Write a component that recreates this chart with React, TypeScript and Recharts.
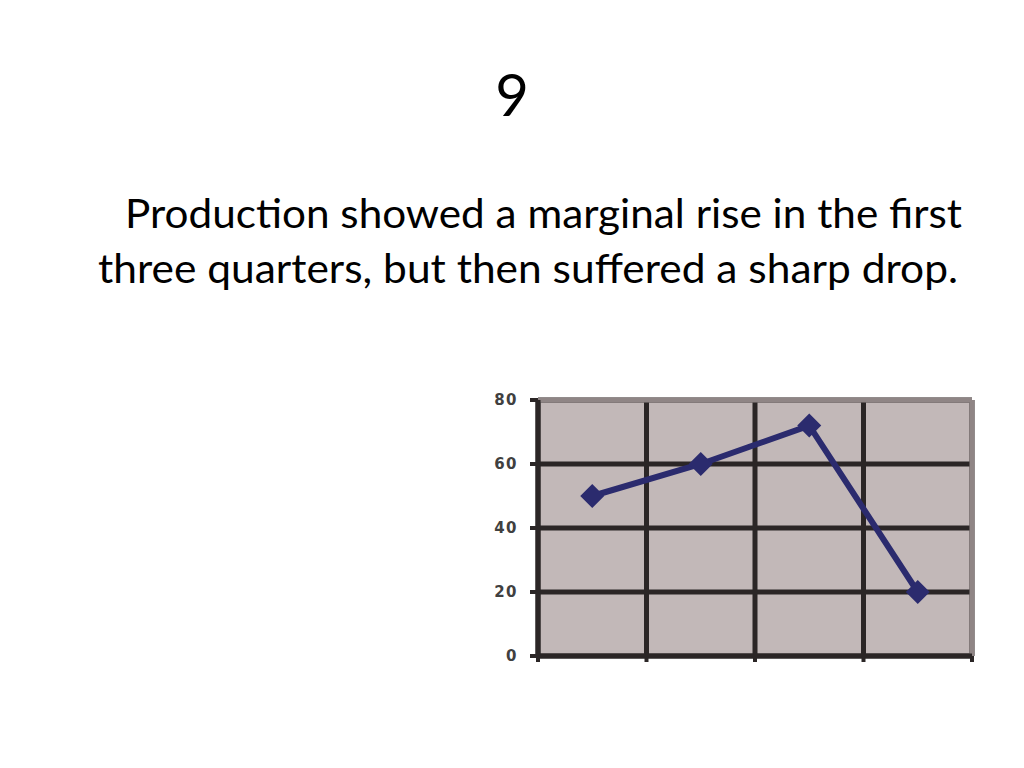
import React from "react";
import {
  CartesianGrid,
  Line,
  LineChart,
  ReferenceLine,
  XAxis,
  YAxis,
} from "recharts";

const quarters = ["Q1", "Q2", "Q3", "Q4"];
const production = [50, 60, 72, 20];
const yTicks = [0, 20, 40, 60, 80];
const xBoundaries = [0, 1, 2, 3, 4];

const data = quarters.map((q, i) => ({ quarter: q, pos: i + 0.5, value: production[i] }));

const GRID = "#2b2626";
const FRAME = "#8f8585";
const LINE = "#2b2b6e";

const YTick = (props: any) => {
  const { x, y, payload } = props;
  return (
    <text
      x={x}
      y={y}
      dy={5}
      textAnchor="end"
      fontFamily="DejaVu Sans"
      fontSize={15}
      fontWeight="bold"
      letterSpacing={1.5}
      fill="#404040"
    >
      {payload.value}
    </text>
  );
};

const NoTick = () => <g />;

const Diamond = (props: any) => {
  const { cx, cy } = props;
  if (cx == null || cy == null) return null;
  const w = 12;
  const h = 12;
  return (
    <polygon
      points={`${cx},${cy - h} ${cx + w},${cy} ${cx},${cy + h} ${cx - w},${cy}`}
      fill={LINE}
    />
  );
};

export default function App() {
  return (
    <div
      style={{
        position: "absolute",
        left: 0,
        top: 0,
        width: 1024,
        height: 768,
        background: "#fff",
        overflow: "hidden",
      }}
    >
      <svg width={1024} height={320} style={{ position: "absolute", left: 0, top: 0 }}>
        <text x={512} y={116} textAnchor="middle" fontFamily="Lato" fontSize={58} fill="#000">
          9
        </text>
        <text
          x={125}
          y={228}
          fontFamily="Lato"
          fontSize={40}
          fill="#000"
          textLength={837}
          lengthAdjust="spacingAndGlyphs"
        >
          Production showed a marginal rise in the first
        </text>
        <text
          x={98}
          y={283}
          fontFamily="Lato"
          fontSize={40}
          fill="#000"
          textLength={860}
          lengthAdjust="spacingAndGlyphs"
        >
          three quarters, but then suffered a sharp drop.
        </text>
      </svg>

      <div style={{ position: "absolute", left: 470, top: 385 }}>
        <LineChart
          width={522}
          height={290}
          data={data}
          margin={{ top: 15, right: 20, left: 28, bottom: 9 }}
        >
          <CartesianGrid
            fill="#c2b8b8"
            stroke={GRID}
            strokeWidth={5}
            fillOpacity={1}
          />
          <ReferenceLine y={80} stroke={FRAME} strokeWidth={5} />
          <ReferenceLine x={4} stroke={FRAME} strokeWidth={5} />
          <XAxis
            dataKey="pos"
            type="number"
            domain={[0, 4]}
            ticks={xBoundaries}
            interval={0}
            tick={<NoTick />}
            tickSize={6}
            height={10}
            axisLine={{ stroke: GRID, strokeWidth: 5 }}
            tickLine={{ stroke: GRID, strokeWidth: 4 }}
          />
          <YAxis
            domain={[0, 80]}
            ticks={yTicks}
            width={40}
            tickSize={8}
            tickMargin={12}
            tick={<YTick />}
            axisLine={{ stroke: GRID, strokeWidth: 5 }}
            tickLine={{ stroke: GRID, strokeWidth: 4 }}
          />
          <Line
            dataKey="value"
            stroke={LINE}
            strokeWidth={6}
            dot={<Diamond />}
            isAnimationActive={false}
          />
        </LineChart>
      </div>
    </div>
  );
}
